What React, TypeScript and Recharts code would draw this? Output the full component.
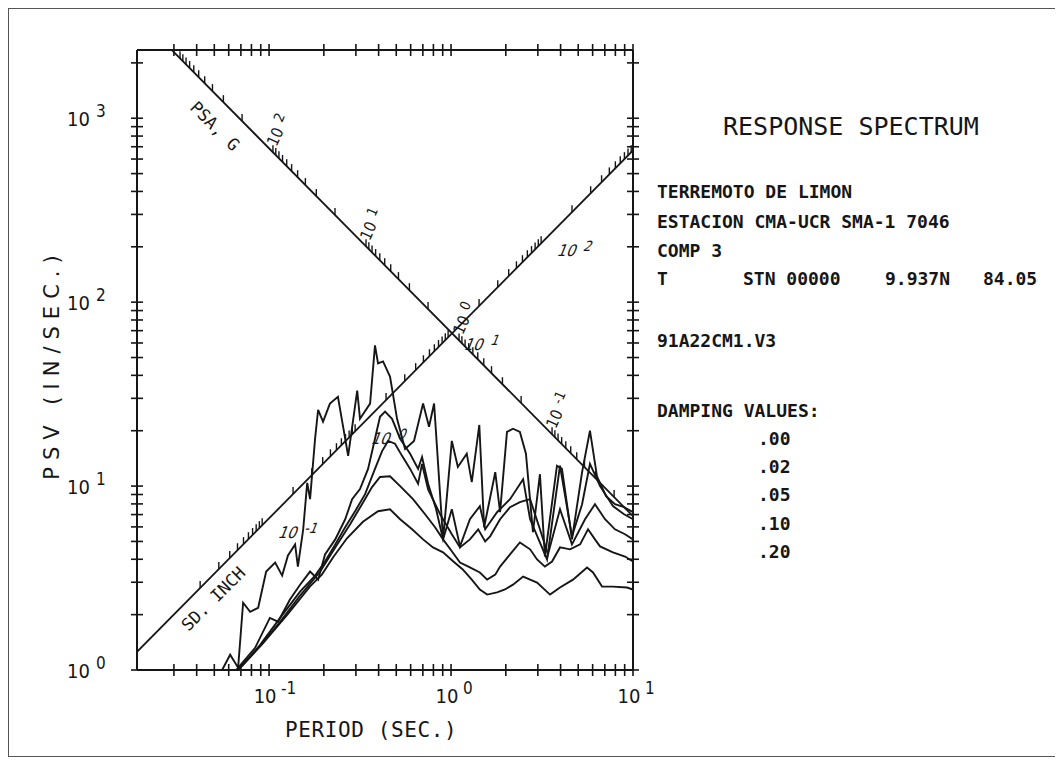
import React from 'react';
import { ComposedChart, Line, Scatter, XAxis, YAxis } from 'recharts';

const INK = '#161616';
const MONO = '"DejaVu Sans Mono", monospace';
const NARROW = '"Liberation Sans Narrow", "DejaVu Sans Condensed", sans-serif';

// axis limits: period (sec) and pseudo velocity (in/sec)
const PERIOD_RANGE: [number, number] = [0.0188, 10];
const PSV_RANGE: [number, number] = [1, 2350];

const PERIOD_TICKS = [
  0.03, 0.04, 0.05, 0.06, 0.07, 0.08, 0.09,
  0.1, 0.2, 0.3, 0.4, 0.5, 0.6, 0.7, 0.8, 0.9,
  1, 2, 3, 4, 5, 6, 7, 8, 9, 10,
];
const PSV_TICKS = [
  1, 2, 3, 4, 5, 6, 7, 8, 9,
  10, 20, 30, 40, 50, 60, 70, 80, 90,
  100, 200, 300, 400, 500, 600, 700, 800, 900,
  1000, 2000,
];

const DAMPING_VALUES = ['.00', '.02', '.05', '.10', '.20'];

// response spectra, [period, psv]
const damp00: [number, number][] = [
  [0.0552, 1.0], [0.0611, 1.21], [0.0676, 1.03], [0.072, 2.32], [0.0787, 2.07],
  [0.0871, 2.18], [0.0964, 3.43], [0.108, 3.84], [0.118, 3.26], [0.127, 4.2],
  [0.139, 4.82], [0.144, 3.65], [0.154, 5.82], [0.162, 10.4], [0.168, 8.49],
  [0.179, 18.1], [0.186, 26.0], [0.198, 22.4], [0.216, 28.1], [0.239, 30.6],
  [0.272, 14.6], [0.305, 33.0], [0.316, 23.2], [0.359, 28.1], [0.382, 58.2],
  [0.397, 46.4], [0.423, 47.6], [0.462, 39.4], [0.505, 23.2], [0.559, 15.9],
  [0.626, 17.6], [0.702, 28.1], [0.757, 21.0], [0.807, 28.1], [0.904, 5.13],
  [1.01, 17.6], [1.09, 12.7], [1.22, 15.0], [1.3, 10.5], [1.43, 21.5],
  [1.52, 5.97], [1.75, 11.9], [1.86, 7.21], [2.03, 19.7], [2.19, 20.5],
  [2.39, 19.7], [2.58, 15.0], [2.82, 5.61], [3.08, 11.6], [3.28, 4.14],
  [3.82, 12.9], [4.07, 12.4], [4.62, 5.13], [5.25, 11.9], [5.8, 20.0],
  [6.34, 11.3], [7.11, 8.82], [7.96, 7.97], [8.93, 7.68], [10, 7.21],
];
const damp02: [number, number][] = [
  [0.0659, 1.0], [0.0838, 1.32], [0.101, 1.92], [0.112, 1.83], [0.13, 2.41],
  [0.148, 2.91], [0.168, 3.43], [0.186, 3.1], [0.203, 4.25], [0.231, 5.13],
  [0.262, 6.6], [0.286, 8.49], [0.316, 9.63], [0.35, 12.4], [0.382, 18.1],
  [0.407, 23.8], [0.434, 25.4], [0.474, 23.2], [0.525, 18.1], [0.596, 15.0],
  [0.659, 12.4], [0.693, 14.4], [0.748, 10.3], [0.828, 7.48], [0.904, 5.13],
  [1.01, 7.48], [1.12, 4.7], [1.27, 6.6], [1.44, 7.78], [1.54, 5.82],
  [1.79, 7.21], [2.11, 8.49], [2.49, 10.9], [2.72, 6.6], [3.37, 3.99],
  [3.97, 12.9], [4.62, 5.33], [5.25, 7.97], [5.8, 13.2], [6.59, 10.0],
  [7.76, 7.78], [8.93, 7.03], [10, 6.6],
];
const damp05: [number, number][] = [
  [0.0676, 1.0], [0.0893, 1.37], [0.115, 1.92], [0.148, 2.67], [0.179, 3.26],
  [0.203, 3.89], [0.231, 4.82], [0.262, 5.97], [0.297, 7.3], [0.337, 9.04],
  [0.382, 12.4], [0.418, 15.5], [0.451, 17.6], [0.492, 17.0], [0.538, 14.6],
  [0.596, 12.4], [0.659, 10.3], [0.693, 13.2], [0.748, 9.6], [0.871, 7.03],
  [1.01, 5.47], [1.12, 4.64], [1.27, 5.13], [1.41, 5.82], [1.54, 5.0],
  [1.64, 5.33], [1.86, 6.6], [2.11, 7.68], [2.39, 8.18], [2.72, 8.49],
  [3.08, 5.82], [3.41, 4.25], [3.97, 7.48], [4.62, 4.82], [5.45, 6.6],
  [6.18, 7.97], [7.02, 6.6], [7.96, 5.82], [9.04, 5.47], [10, 5.13],
];
const damp10: [number, number][] = [
  [0.0676, 1.0], [0.0893, 1.35], [0.115, 1.83], [0.148, 2.54], [0.191, 3.43],
  [0.231, 4.64], [0.279, 6.2], [0.324, 7.97], [0.368, 9.88], [0.407, 11.2],
  [0.462, 11.3], [0.525, 10.0], [0.618, 8.49], [0.72, 7.03], [0.817, 5.97],
  [0.904, 5.13], [1.01, 4.42], [1.12, 3.84], [1.27, 3.61], [1.44, 3.39],
  [1.58, 3.1], [1.75, 3.3], [1.86, 3.65], [2.11, 4.25], [2.39, 4.94],
  [2.72, 4.53], [2.97, 3.99], [3.28, 3.65], [3.59, 3.89], [3.97, 4.64],
  [4.51, 4.53], [5.12, 4.82], [5.66, 5.82], [6.18, 5.13], [6.59, 4.7],
  [7.76, 4.36], [9.04, 4.14], [10, 3.89],
];
const damp20: [number, number][] = [
  [0.0676, 1.0], [0.0927, 1.4], [0.126, 2.0], [0.168, 2.85], [0.195, 3.3],
  [0.225, 4.1], [0.268, 5.2], [0.328, 6.4], [0.397, 7.3], [0.462, 7.48],
  [0.525, 6.6], [0.611, 5.82], [0.702, 5.13], [0.796, 4.64], [0.904, 4.36],
  [1.03, 3.89], [1.16, 3.52], [1.3, 3.1], [1.44, 2.74], [1.58, 2.57],
  [1.79, 2.64], [1.98, 2.74], [2.19, 2.91], [2.49, 3.22], [2.72, 3.1],
  [2.97, 2.99], [3.5, 2.57], [3.97, 2.81], [4.68, 3.1], [5.59, 3.61],
  [6.03, 3.39], [6.76, 2.84], [7.76, 2.84], [9.27, 2.81], [10, 2.74],
];

// tripartite axes: psv = k*T along the SD axis, psv = k/T along the PSA axis
const SD_LINE_K = 66.8;
const PSA_LINE_K = 68.6;
const PSA_LINE_START = 0.0285;
// period where each tick group starts, and the decade it is labelled with
const SD_GROUP_START = [0.0418, 0.1355, 0.4395, 1.426, 4.62];
const SD_GROUP_EXP = ['', '-1', '0', '1', '2'];
const PSA_GROUP_START = [0.0324, 0.105, 0.341, 1.107, 3.59];
const PSA_GROUP_EXP = ['', '2', '1', '0', '-1'];
const GROUP_SPAN = 0.341; // decades of period covered by one tick group
const PSA_TITLE_AT = 0.0618;
const SD_TITLE_AT = 0.0424;

const toPts = (arr: [number, number][]) => arr.map(([T, V]) => ({ T, V }));

const sdLine = [
  { T: PERIOD_RANGE[0], V: SD_LINE_K * PERIOD_RANGE[0] },
  { T: PERIOD_RANGE[1], V: SD_LINE_K * PERIOD_RANGE[1] },
];
const psaLine = [
  { T: PSA_LINE_START, V: PSA_LINE_K / PSA_LINE_START },
  { T: PERIOD_RANGE[1], V: PSA_LINE_K / PERIOD_RANGE[1] },
];

const sdTicks: { T: number; V: number }[] = [];
const psaTicks: { T: number; V: number }[] = [];
SD_GROUP_START.forEach((s) => {
  for (let m = 1; m <= 10; m++) {
    const T = s * Math.pow(m, GROUP_SPAN);
    if (T <= PERIOD_RANGE[1]) sdTicks.push({ T, V: SD_LINE_K * T });
  }
});
PSA_GROUP_START.forEach((s) => {
  for (let m = 1; m <= 10; m++) {
    const T = s * Math.pow(10, GROUP_SPAN * (1 - Math.log10(m)));
    psaTicks.push({ T, V: PSA_LINE_K / T });
  }
});
const sdLabels = SD_GROUP_START.map((T, i) => ({ T, V: SD_LINE_K * T, exp: SD_GROUP_EXP[i] })).filter((d) => d.exp);
const psaLabels = PSA_GROUP_START.map((T, i) => ({ T, V: PSA_LINE_K / T, exp: PSA_GROUP_EXP[i] })).filter((d) => d.exp);
const psaTitle = [{ T: PSA_TITLE_AT, V: PSA_LINE_K / PSA_TITLE_AT }];
const sdTitle = [{ T: SD_TITLE_AT, V: SD_LINE_K * SD_TITLE_AT }];

const decadeOf = (v: number) => {
  const e = Math.round(Math.log10(v));
  return Math.abs(Math.log10(v) - e) < 1e-6 ? e : null;
};

const XTick = (props: any) => {
  const { x, y, payload, labelled } = props;
  const e = decadeOf(payload.value);
  return (
    <g>
      <line x1={x} y1={y - 6} x2={x} y2={y + 6} stroke={INK} strokeWidth={1.6} />
      {labelled && e !== null && (
        <g fill={INK} fontFamily={NARROW}>
          <text x={x - 4} y={y + 33} textAnchor="middle" fontSize={20}>10</text>
          <text x={x + 12} y={y + 24} fontSize={17}>{String(e)}</text>
        </g>
      )}
    </g>
  );
};

const YTick = (props: any) => {
  const { x, y, payload, labelled } = props;
  const e = decadeOf(payload.value);
  return (
    <g>
      <line x1={x - 6} y1={y} x2={x + 6} y2={y} stroke={INK} strokeWidth={1.6} />
      {labelled && e !== null && (
        <g fill={INK} fontFamily={NARROW}>
          <text x={x - 47} y={y + 8} textAnchor="end" fontSize={20}>10</text>
          <text x={x - 41} y={y - 1} fontSize={17}>{String(e)}</text>
        </g>
      )}
    </g>
  );
};

const DiagTick = (p: any) => (
  <line x1={p.cx} y1={p.cy} x2={p.cx} y2={p.cy - 7} stroke={INK} strokeWidth={1.4} />
);

const PsaLabel = (p: any) => (
  <g transform={`translate(${p.cx + 6},${p.cy - 25}) rotate(-66)`} fill={INK} fontFamily={NARROW}>
    <text x={-1} y={6} textAnchor="end" fontSize={16}>10</text>
    <text x={5} y={1} fontSize={14}>{p.payload.exp}</text>
  </g>
);

const SdLabel = (p: any) => (
  <g transform={`translate(${p.cx + 6},${p.cy + 38}) skewX(-22)`} fill={INK} fontFamily={NARROW}>
    <text x={-1} y={6} textAnchor="end" fontSize={16}>10</text>
    <text x={5} y={1} fontSize={14}>{p.payload.exp}</text>
  </g>
);

const PsaTitle = (p: any) => (
  <text
    transform={`translate(${p.cx - 16},${p.cy + 16}) rotate(45)`}
    textAnchor="middle"
    dominantBaseline="central"
    fontFamily={MONO}
    fontSize={17}
    fill={INK}
  >
    PSA, G
  </text>
);

const SdTitle = (p: any) => (
  <text
    transform={`translate(${p.cx + 12},${p.cy + 12}) rotate(-45)`}
    textAnchor="middle"
    dominantBaseline="central"
    fontFamily={MONO}
    fontSize={17}
    fill={INK}
  >
    SD. INCH
  </text>
);

const curves = [damp00, damp02, damp05, damp10, damp20];

const App: React.FC = () => {
  const axisLine = { stroke: INK, strokeWidth: 2 };
  return (
    <div style={{ position: 'relative', width: 1055, height: 750, background: '#fff' }}>
      <div
        style={{
          position: 'absolute',
          left: 0,
          top: 0,
          width: 1055,
          height: 749,
          borderLeft: '1px solid #555',
          borderTop: '1px solid #555',
          borderBottom: '1px solid #555',
          boxSizing: 'border-box',
        }}
      />
      <div style={{ position: 'absolute', left: 0, top: 0 }}>
        <ComposedChart width={700} height={740} margin={{ top: 41, right: 74, bottom: 77, left: 128 }}>
          <XAxis
            xAxisId="b"
            dataKey="T"
            type="number"
            scale="log"
            domain={PERIOD_RANGE}
            allowDataOverflow
            ticks={PERIOD_TICKS}
            interval={0}
            orientation="bottom"
            height={1}
            tickSize={0}
            tickMargin={0}
            tickLine={false}
            axisLine={axisLine}
            tick={<XTick labelled />}
          />
          <XAxis
            xAxisId="t"
            dataKey="T"
            type="number"
            scale="log"
            domain={PERIOD_RANGE}
            allowDataOverflow
            ticks={PERIOD_TICKS}
            interval={0}
            orientation="top"
            height={1}
            tickSize={0}
            tickMargin={0}
            tickLine={false}
            axisLine={axisLine}
            tick={<XTick labelled={false} />}
          />
          <YAxis
            yAxisId="l"
            dataKey="V"
            type="number"
            scale="log"
            domain={PSV_RANGE}
            allowDataOverflow
            ticks={PSV_TICKS}
            interval={0}
            orientation="left"
            width={1}
            tickSize={0}
            tickMargin={0}
            tickLine={false}
            axisLine={axisLine}
            tick={<YTick labelled />}
          />
          <YAxis
            yAxisId="r"
            dataKey="V"
            type="number"
            scale="log"
            domain={PSV_RANGE}
            allowDataOverflow
            ticks={PSV_TICKS}
            interval={0}
            orientation="right"
            width={1}
            tickSize={0}
            tickMargin={0}
            tickLine={false}
            axisLine={axisLine}
            tick={<YTick labelled={false} />}
          />
          <Line xAxisId="b" yAxisId="l" data={sdLine} dataKey="V" stroke={INK} strokeWidth={1.8} dot={false} isAnimationActive={false} />
          <Line xAxisId="b" yAxisId="l" data={psaLine} dataKey="V" stroke={INK} strokeWidth={1.8} dot={false} isAnimationActive={false} />
          <Line xAxisId="t" yAxisId="r" data={psaLine} dataKey="V" stroke="none" dot={false} isAnimationActive={false} />
          <Scatter xAxisId="b" yAxisId="l" data={sdTicks} shape={DiagTick} isAnimationActive={false} />
          <Scatter xAxisId="b" yAxisId="l" data={psaTicks} shape={DiagTick} isAnimationActive={false} />
          <Scatter xAxisId="b" yAxisId="l" data={sdLabels} shape={SdLabel} isAnimationActive={false} />
          <Scatter xAxisId="b" yAxisId="l" data={psaLabels} shape={PsaLabel} isAnimationActive={false} />
          <Scatter xAxisId="b" yAxisId="l" data={psaTitle} shape={PsaTitle} isAnimationActive={false} />
          <Scatter xAxisId="b" yAxisId="l" data={sdTitle} shape={SdTitle} isAnimationActive={false} />
          {curves.map((c, i) => (
            <Line
              key={DAMPING_VALUES[i]}
              xAxisId="b"
              yAxisId="l"
              data={toPts(c)}
              dataKey="V"
              name={DAMPING_VALUES[i]}
              stroke={INK}
              strokeWidth={1.9}
              dot={false}
              isAnimationActive={false}
            />
          ))}
        </ComposedChart>
      </div>
      <svg width={1055} height={750} style={{ position: 'absolute', left: 0, top: 0, pointerEvents: 'none' }}>
        <defs>
          <clipPath id="rightClip">
            <rect x={0} y={0} width={1030} height={750} />
          </clipPath>
        </defs>
        <g fill={INK} fontFamily={MONO}>
          <text x={715} y={127} fontSize={25}>RESPONSE SPECTRUM</text>
          <g fontSize={18} fontWeight="bold">
            <text x={649} y={190}>TERREMOTO DE LIMON</text>
            <text x={649} y={220}>ESTACION CMA-UCR SMA-1 7046</text>
            <text x={649} y={249}>COMP 3</text>
            <g clipPath="url(#rightClip)">
              <text x={649} y={277}>T</text>
              <text x={735} y={277}>STN 00000</text>
              <text x={877} y={277}>9.937N</text>
              <text x={975} y={277}>84.054W</text>
            </g>
            <text x={649} y={339}>91A22CM1.V3</text>
            <text x={649} y={409}>DAMPING VALUES:</text>
            {DAMPING_VALUES.map((d, i) => (
              <text key={d} x={750} y={437 + i * 28.2}>{d}</text>
            ))}
          </g>
          <text x={277} y={729} fontSize={21} letterSpacing={0.6}>PERIOD (SEC.)</text>
          <text
            transform="translate(44,356) rotate(-90)"
            textAnchor="middle"
            dominantBaseline="central"
            fontFamily='"DejaVu Sans", sans-serif'
            fontSize={21}
            letterSpacing={7}
          >
            PSV  (IN/SEC.)
          </text>
        </g>
      </svg>
    </div>
  );
};

export default App;
